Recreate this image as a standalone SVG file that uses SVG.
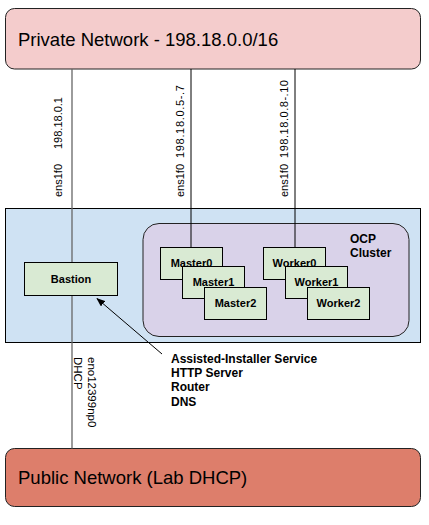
<svg xmlns="http://www.w3.org/2000/svg" width="429" height="525" viewBox="0 0 429 525">
<style>
text{font-family:"Liberation Sans",Arial,sans-serif;fill:#000}
.net{font-size:18.5px}
.lbl{font-size:11px}
.nt{font-size:11px;font-weight:bold;text-anchor:middle}
.bt{font-size:12px;font-weight:bold}
.node{fill:#d9ead3;stroke:#000;stroke-width:1}
.wire{stroke:#000;stroke-width:1;fill:none}
.gwire{stroke:#666;stroke-width:1.3;fill:none}
</style>
<defs>
<marker id="ah" viewBox="0 0 10 10" refX="9" refY="5" markerWidth="9" markerHeight="7" markerUnits="userSpaceOnUse" orient="auto" preserveAspectRatio="none">
<path d="M0,0 L10,5 L0,10 z" fill="#000"/>
</marker>
</defs>
<rect width="429" height="525" fill="#fff"/>
<g id="private-network">
<rect x="5.5" y="8.5" width="415" height="60.5" rx="9" fill="#f4cccc" stroke="#222"/>
<text class="net" x="18" y="46">Private Network - 198.18.0.0/16</text>
</g>
<g id="lab-zone">
<rect x="5.5" y="208.5" width="415" height="134" fill="#cfe2f3" stroke="#000"/>
</g>
<g id="ocp-cluster">
<rect x="143" y="223.5" width="266" height="113" rx="16" fill="#d9d2e9" stroke="#222"/>
<text class="bt" x="350" y="243">OCP</text>
<text class="bt" x="350" y="257">Cluster</text>
</g>
<g id="public-network">
<rect x="5.5" y="448.5" width="415" height="58" rx="9" fill="#dd7e6b" stroke="#222"/>
<text class="net" x="18" y="484">Public Network (Lab DHCP)</text>
</g>
<g id="connectors">
<line class="gwire" x1="72" y1="69" x2="72" y2="262.5"/>
<line class="gwire" x1="72" y1="295.5" x2="72" y2="448.5"/>
<line class="wire" x1="191" y1="69" x2="191" y2="247.5"/>
<line class="wire" x1="295" y1="69" x2="295" y2="247.5"/>
<line class="wire" x1="162" y1="354" x2="97" y2="298.5" marker-end="url(#ah)"/>
<text class="lbl" transform="translate(61.5 197) rotate(-90)"><tspan x="0">ens1f0</tspan><tspan x="48">198.18.0.1</tspan></text>
<text class="lbl" transform="translate(184 197) rotate(-90)"><tspan x="0">ens1f0</tspan><tspan x="39" textLength="73" lengthAdjust="spacing">198.18.0.5-.7</tspan></text>
<text class="lbl" transform="translate(287.5 197) rotate(-90)"><tspan x="0">ens1f0</tspan><tspan x="39" textLength="78" lengthAdjust="spacing">198.18.0.8-.10</tspan></text>
<text class="lbl" style="font-size:11.5px" transform="translate(87.5 357) rotate(90)"><tspan x="0" y="0">eno12399np0</tspan><tspan x="0" y="13.5">DHCP</tspan></text>
</g>
<g id="bastion">
<rect class="node" x="24.5" y="262.5" width="93" height="33"/>
<text class="nt" x="71" y="283">Bastion</text>
</g>
<g id="master0">
<rect class="node" x="160.5" y="247.5" width="62" height="32"/>
<text class="nt" x="191.5" y="267">Master0</text>
</g>
<g id="master1">
<rect class="node" x="182.5" y="266.5" width="62" height="32"/>
<text class="nt" x="213.5" y="286">Master1</text>
</g>
<g id="master2">
<rect class="node" x="204.5" y="287.5" width="62" height="32"/>
<text class="nt" x="235.5" y="307">Master2</text>
</g>
<g id="worker0">
<rect class="node" x="263.5" y="247.5" width="62" height="32"/>
<text class="nt" x="294.5" y="267">Worker0</text>
</g>
<g id="worker1">
<rect class="node" x="285.5" y="266.5" width="62" height="32"/>
<text class="nt" x="316.5" y="286">Worker1</text>
</g>
<g id="worker2">
<rect class="node" x="307.5" y="287.5" width="62" height="32"/>
<text class="nt" x="338.5" y="307">Worker2</text>
</g>
<g id="services">
<text class="bt" x="171" y="362.5">Assisted-Installer Service</text>
<text class="bt" x="171" y="377">HTTP Server</text>
<text class="bt" x="171" y="391">Router</text>
<text class="bt" x="171" y="405.5">DNS</text>
</g>
</svg>
